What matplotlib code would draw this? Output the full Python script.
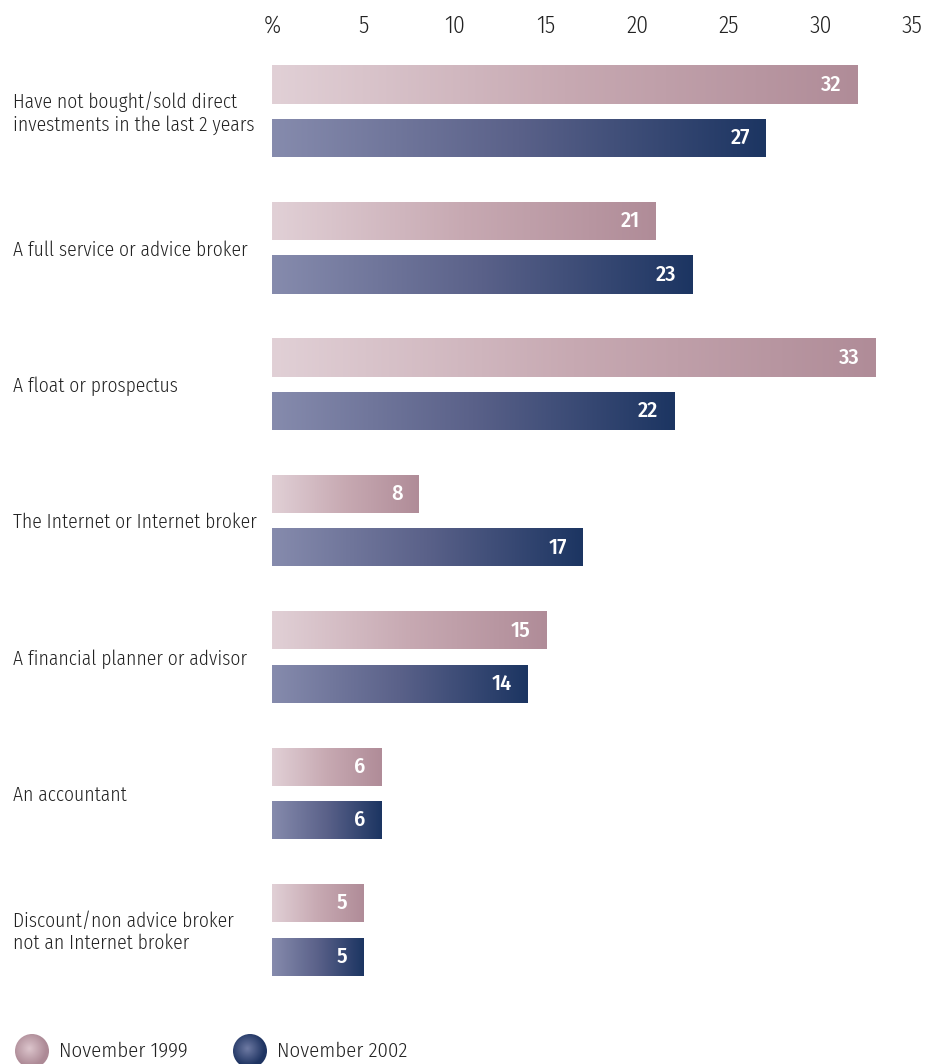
import numpy as np
import matplotlib
matplotlib.use("Agg")
import matplotlib.pyplot as plt
from matplotlib.colors import LinearSegmentedColormap
from matplotlib.transforms import blended_transform_factory
from matplotlib.patches import Circle

plt.rcParams['font.family'] = ['Fira Sans Condensed', 'DejaVu Sans']

categories = [
    "Have not bought/sold direct\ninvestments in the last 2 years",
    "A full service or advice broker",
    "A float or prospectus",
    "The Internet or Internet broker",
    "A financial planner or advisor",
    "An accountant",
    "Discount/non advice broker\nnot an Internet broker",
]
nov_1999 = [32, 21, 33, 8, 15, 6, 5]
nov_2002 = [27, 23, 22, 17, 14, 6, 5]
series_names = ["November 1999", "November 2002"]
xticks = [0, 5, 10, 15, 20, 25, 30, 35]
xticklabels = ["%", "5", "10", "15", "20", "25", "30", "35"]

pink_cmap = LinearSegmentedColormap.from_list("pink", ["#e1d0d6", "#c7a9b2", "#b08c98"])
blue_cmap = LinearSegmentedColormap.from_list("blue", ["#868bad", "#5a6189", "#1c3562"])
text_color = "#222222"

fig = plt.figure(figsize=(9.25, 10.64), dpi=100)
ax = fig.add_axes([272/925, 1 - 990/1064, (912-272)/925, (990-50)/1064])

y = np.arange(len(categories))
off = 0.196
h = 0.28
grad = np.linspace(0, 1, 256).reshape(1, -1)

for vals, dy, cmap in [(nov_1999, -off, pink_cmap), (nov_2002, off, blue_cmap)]:
    bars = ax.barh(y + dy, vals, height=h, color="none", edgecolor="none")
    for b, v in zip(bars, vals):
        x0, y0 = b.get_x(), b.get_y()
        w, hh = b.get_width(), b.get_height()
        im = ax.imshow(grad, cmap=cmap, aspect="auto",
                       extent=(x0, x0 + w, y0 + hh, y0), zorder=1)
        im.set_clip_path(b)
        ax.annotate(f"{v}", xy=(v, y0 + hh / 2), xytext=(-11.5, 0),
                    textcoords="offset points", ha="right", va="center",
                    color="white", fontsize=16, fontweight=500, zorder=3)

ax.set_xlim(0, 35)
ax.set_ylim(6.44, -0.449)
ax.xaxis.tick_top()
ax.set_xticks(xticks)
ax.set_xticklabels(xticklabels, fontsize=17, color=text_color, fontweight=300)
ax.tick_params(axis="x", length=0, pad=9)
ax.set_yticks([])
for s in ax.spines.values():
    s.set_visible(False)

trans = blended_transform_factory(fig.transFigure, ax.transData)
for yi, cat in zip(y, categories):
    ax.text(13/925, yi + 0.015, cat, transform=trans, ha="left", va="center",
            fontsize=14, fontweight=300, color=text_color, linespacing=1.2)

# legend
lax = fig.add_axes([0, 0, 1, 44/1064])
lax.axis("off")
yy, xx = np.mgrid[-1:1:200j, -1:1:200j]
rr = np.clip(np.sqrt((xx + 0.15)**2 + (yy - 0.15)**2), 0, 1)
leg_items = [(32, "#dcc5cc", "#ad8a96", series_names[0]),
             (250, "#6e7aa3", "#1f3462", series_names[1])]
for cx, c_in, c_out, name in leg_items:
    rc = LinearSegmentedColormap.from_list("r", [c_in, c_out])
    r = 17
    cy = 13
    circ = Circle((cx, cy), r, facecolor="none", edgecolor="none")
    lax.add_patch(circ)
    im = lax.imshow(rr, cmap=rc, extent=(cx - r, cx + r, cy - r, cy + r),
                    origin="lower", aspect="auto")
    im.set_clip_path(circ)
    lax.text(cx + 27, cy, name, ha="left", va="center", fontsize=15,
             fontweight=300, color=text_color)
lax.set_xlim(0, 925)
lax.set_ylim(0, 44)

fig.savefig("out.png", dpi=100)
